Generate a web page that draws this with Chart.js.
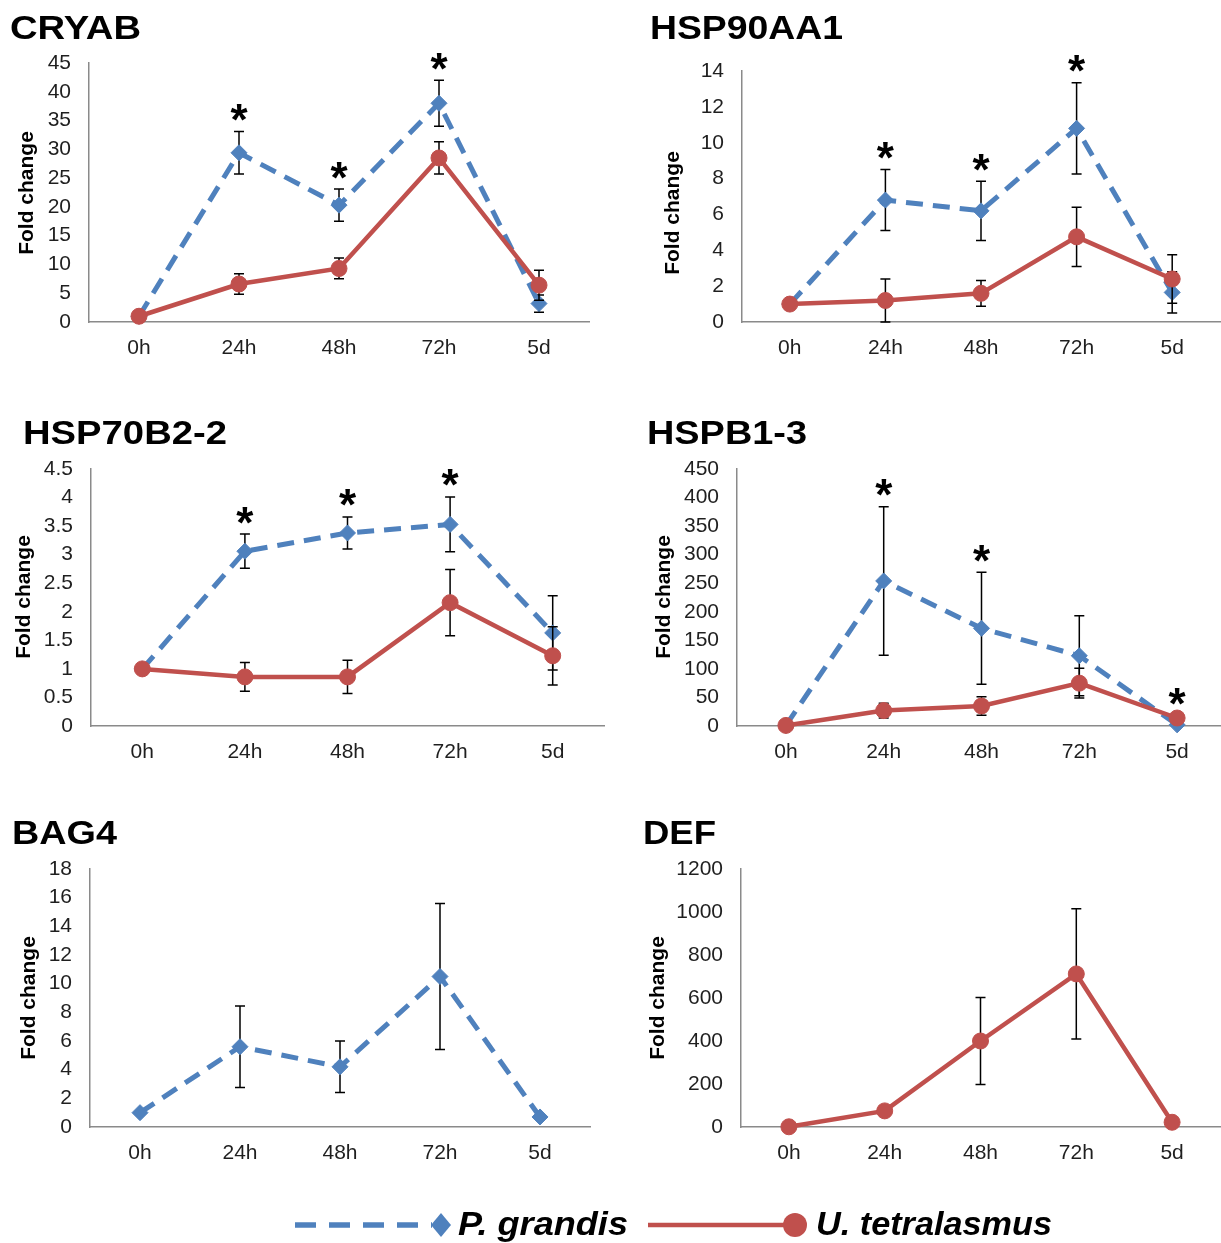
<!DOCTYPE html>
<html>
<head>
<meta charset="utf-8">
<script src="https://cdn.jsdelivr.net/npm/chart.js@4.4.1/dist/chart.umd.min.js"></script>
<style>
  html, body { margin:0; padding:0; background:#fff; }
  body { width:1221px; height:1243px; overflow:hidden; position:relative; font-family:"Liberation Sans", Arial, sans-serif; }
  canvas { position:absolute; }
  #overlay { position:absolute; left:0; top:0; z-index:2; pointer-events:none; }
</style>
</head>
<body>
<svg id="overlay" width="1221" height="1243" xmlns="http://www.w3.org/2000/svg"></svg>
<script>
// ---------------- DATA ----------------
const categories = ['0h', '24h', '48h', '72h', '5d'];
const geneNames = ['CRYAB', 'HSP90AA1', 'HSP70B2-2', 'HSPB1-3', 'BAG4', 'DEF'];
const seriesNames = ['P. grandis', 'U. tetralasmus'];
const yAxisTitle = 'Fold change';

const cryabPg    = [1.0, 29.4, 20.3, 38.0, 3.2];
const cryabPgErr = [0, 3.7, 2.8, 4.0, 1.5];
const cryabUt    = [1.0, 6.6, 9.3, 28.5, 6.4];
const cryabUtErr = [0, 1.8, 1.8, 2.8, 2.6];
const cryabSig   = [0, 1, 1, 1, 0];

const hsp90Pg    = [1.0, 6.8, 6.2, 10.8, 1.65];
const hsp90PgErr = [0, 1.7, 1.65, 2.55, 1.15];
const hsp90Ut    = [1.0, 1.2, 1.6, 4.75, 2.4];
const hsp90UtErr = [0, 1.2, 0.72, 1.65, 1.35];
const hsp90Sig   = [0, 1, 1, 1, 0];

const hsp70Pg    = [1.0, 3.06, 3.38, 3.53, 1.63];
const hsp70PgErr = [0, 0.3, 0.28, 0.48, 0.65];
const hsp70Ut    = [1.0, 0.86, 0.86, 2.16, 1.23];
const hsp70UtErr = [0, 0.25, 0.29, 0.58, 0.51];
const hsp70Sig   = [0, 1, 1, 1, 0];

const hspb1Pg    = [1, 254, 171, 123, 2];
const hspb1PgErr = [0, 130, 98, 70, 0];
const hspb1Ut    = [1, 27, 35, 75, 14];
const hspb1UtErr = [0, 13, 16, 26, 5];
const hspb1Sig   = [0, 1, 1, 0, 1];

const bag4Pg     = [1.0, 5.6, 4.2, 10.5, 0.7];
const bag4PgErr  = [0, 2.85, 1.8, 5.1, 0];

const defUt      = [1, 75, 400, 712, 22];
const defUtErr   = [0, 18, 202, 303, 0];

const yMax  = [45, 14, 4.5, 450, 18, 1200];
const yStep = [5, 2, 0.5, 50, 2, 200];

// ---------------- LAYOUT / STYLE ----------------
const BLUE = '#4F81BD', RED = '#C0504D', AXIS = '#8a8a8a', TICK = '#1f1f1f';
const FONT = '"Liberation Sans", Arial, Helvetica, sans-serif';
const PAD_TOP = 40, PAD_RIGHT = 10, X_AXIS_H = 45;
const TICK_SIZE = 21, STAR_SIZE = 44;

const panels = [
  { g:0, pg:cryabPg, pgErr:cryabPgErr, ut:cryabUt, utErr:cryabUtErr, sig:cryabSig,
    L:{ canvasX:0,   left:89,  right:589,  top:63,  bottom:322,  ytX:27,  ytY:193, tX:10,  tY:39,  tW:131 } },
  { g:1, pg:hsp90Pg, pgErr:hsp90PgErr, ut:hsp90Ut, utErr:hsp90UtErr, sig:hsp90Sig,
    L:{ canvasX:610, left:742, right:1220, top:71,  bottom:322,  ytX:673, ytY:213, tX:650, tY:39,  tW:193 } },
  { g:2, pg:hsp70Pg, pgErr:hsp70PgErr, ut:hsp70Ut, utErr:hsp70UtErr, sig:hsp70Sig,
    L:{ canvasX:0,   left:91,  right:604,  top:469, bottom:726,  ytX:24,  ytY:597, tX:23,  tY:444, tW:204 } },
  { g:3, pg:hspb1Pg, pgErr:hspb1PgErr, ut:hspb1Ut, utErr:hspb1UtErr, sig:hspb1Sig,
    L:{ canvasX:610, left:737, right:1226, top:469, bottom:726,  ytX:664, ytY:597, tX:647, tY:444, tW:160 } },
  { g:4, pg:bag4Pg, pgErr:bag4PgErr, ut:null, utErr:null, sig:null,
    L:{ canvasX:0,   left:90,  right:590,  top:869, bottom:1127, ytX:29,  ytY:998, tX:12,  tY:844, tW:105 } },
  { g:5, pg:null, pgErr:null, ut:defUt, utErr:defUtErr, sig:null,
    L:{ canvasX:610, left:741, right:1220, top:869, bottom:1127, ytX:658, ytY:998, tX:643, tY:844, tW:73 } }
];

Chart.defaults.font.family = FONT;
Chart.defaults.color = TICK;

const errorBarPlugin = {
  id: 'errorBars',
  beforeDatasetDraw(chart, args) {
    const ds = chart.data.datasets[args.index];
    if (!ds.errors) return;
    const ys = chart.scales.y, ctx = chart.ctx;
    ctx.save();
    ctx.strokeStyle = '#000';
    ctx.lineWidth = 1.5;
    args.meta.data.forEach((pt, i) => {
      const e = ds.errors[i];
      if (!e) return;
      const v = ds.data[i];
      const x = pt.x;
      const y1 = ys.getPixelForValue(v + e);
      const y2 = ys.getPixelForValue(v - e);
      ctx.beginPath();
      ctx.moveTo(x, y1); ctx.lineTo(x, y2);
      ctx.moveTo(x - 5, y1); ctx.lineTo(x + 5, y1);
      ctx.moveTo(x - 5, y2); ctx.lineTo(x + 5, y2);
      ctx.stroke();
    });
    ctx.restore();
  }
};

const sigPlugin = {
  id: 'sigMarks',
  afterDatasetsDraw(chart, args, opts) {
    const flags = opts.flags;
    if (!flags) return;
    const ctx = chart.ctx;
    ctx.save();
    ctx.fillStyle = '#000';
    ctx.font = 'bold ' + STAR_SIZE + 'px ' + FONT;
    ctx.textAlign = 'center';
    ctx.textBaseline = 'alphabetic';
    const m = ctx.measureText('*');
    const mid = (m.actualBoundingBoxAscent - m.actualBoundingBoxDescent) / 2;
    flags.forEach((f, i) => {
      if (!f) return;
      let top = -Infinity;
      chart.data.datasets.forEach(ds => {
        const v = ds.data[i] + (ds.errors ? ds.errors[i] : 0);
        top = Math.max(top, v);
      });
      const x = chart.scales.x.getPixelForValue(i);
      const cyStar = chart.scales.y.getPixelForValue(top) - 19;
      ctx.fillText('*', x, cyStar + mid);
    });
    ctx.restore();
  }
};

const yTitlePlugin = {
  id: 'yTitle',
  afterDraw(chart, args, opts) {
    const ctx = chart.ctx;
    ctx.save();
    ctx.translate(opts.x, opts.y);
    ctx.rotate(-Math.PI / 2);
    ctx.fillStyle = '#000';
    ctx.font = 'bold 21px ' + FONT;
    ctx.textAlign = 'center';
    ctx.textBaseline = 'middle';
    ctx.fillText(opts.text, 0, 0);
    ctx.restore();
  }
};

function makePanel(p) {
  const L = p.L;
  const cx = L.canvasX, cy = L.top - PAD_TOP;
  const cw = L.right - cx + PAD_RIGHT;
  const ch = L.bottom - L.top + PAD_TOP + X_AXIS_H;
  const cv = document.createElement('canvas');
  cv.width = cw; cv.height = ch;
  cv.style.left = cx + 'px'; cv.style.top = cy + 'px';
  cv.style.width = cw + 'px'; cv.style.height = ch + 'px';
  document.body.appendChild(cv);

  const datasets = [];
  if (p.pg) datasets.push({
    label: seriesNames[0], data: p.pg, errors: p.pgErr,
    borderColor: BLUE, backgroundColor: BLUE, borderWidth: 5, borderDash: [17, 10],
    pointStyle: 'rectRot', pointRadius: 8, pointBorderWidth: 1,
    pointBorderColor: BLUE, pointBackgroundColor: BLUE,
    tension: 0, clip: false, order: 2
  });
  if (p.ut) datasets.push({
    label: seriesNames[1], data: p.ut, errors: p.utErr,
    borderColor: RED, backgroundColor: RED, borderWidth: 4.5,
    pointStyle: 'circle', pointRadius: 8, pointBorderWidth: 1,
    pointBorderColor: RED, pointBackgroundColor: RED,
    tension: 0, clip: false, order: 1
  });

  new Chart(cv, {
    type: 'line',
    data: { labels: categories, datasets },
    options: {
      responsive: false, animation: false, events: [],
      layout: { padding: { top: PAD_TOP, right: PAD_RIGHT, left: 0, bottom: 0 } },
      plugins: {
        legend: { display: false }, tooltip: { enabled: false },
        sigMarks: { flags: p.sig },
        yTitle: { text: yAxisTitle, x: L.ytX - cx, y: L.ytY - cy }
      },
      scales: {
        x: {
          type: 'category', offset: true,
          grid: { display: false, drawTicks: false },
          border: { display: true, color: AXIS, width: 1.5 },
          ticks: { font: { size: TICK_SIZE }, padding: 14, color: TICK, maxRotation: 0, autoSkip: false },
          afterFit(s) { s.height = X_AXIS_H; }
        },
        y: {
          min: 0, max: yMax[p.g],
          grid: { display: false, drawTicks: false },
          border: { display: true, color: AXIS, width: 1.5 },
          ticks: { stepSize: yStep[p.g], font: { size: TICK_SIZE }, padding: 18, color: TICK,
                   callback: v => String(v) },
          afterFit(s) { s.width = L.left - cx; }
        }
      }
    },
    plugins: [errorBarPlugin, sigPlugin, yTitlePlugin]
  });
}

panels.forEach(makePanel);

// ---------------- TITLES & LEGEND (SVG text) ----------------
const svg = document.getElementById('overlay');
const NS = 'http://www.w3.org/2000/svg';
function el(tag, attrs, text) {
  const e = document.createElementNS(NS, tag);
  for (const k in attrs) e.setAttribute(k, attrs[k]);
  if (text !== undefined) e.textContent = text;
  svg.appendChild(e);
  return e;
}
panels.forEach(p => {
  el('text', { x: p.L.tX, y: p.L.tY, 'font-family': FONT, 'font-size': 34, 'font-weight': 'bold',
               fill: '#000', textLength: p.L.tW, lengthAdjust: 'spacingAndGlyphs' }, geneNames[p.g]);
});
// legend
const LY = 1225;
el('line', { x1: 295, y1: LY, x2: 432, y2: LY, stroke: BLUE, 'stroke-width': 5.5, 'stroke-dasharray': '21 13' });
el('polygon', { points: `${441-10},${LY} ${441},${LY-12} ${441+10},${LY} ${441},${LY+12}`, fill: BLUE });
el('text', { x: 458, y: 1235, 'font-family': FONT, 'font-size': 33, 'font-weight': 'bold', 'font-style': 'italic',
             fill: '#000', textLength: 170, lengthAdjust: 'spacingAndGlyphs' }, seriesNames[0]);
el('line', { x1: 648, y1: LY, x2: 790, y2: LY, stroke: RED, 'stroke-width': 4.5 });
el('circle', { cx: 795, cy: LY, r: 12, fill: RED });
el('text', { x: 816, y: 1235, 'font-family': FONT, 'font-size': 33, 'font-weight': 'bold', 'font-style': 'italic',
             fill: '#000', textLength: 236, lengthAdjust: 'spacingAndGlyphs' }, seriesNames[1]);
</script>
</body>
</html>
